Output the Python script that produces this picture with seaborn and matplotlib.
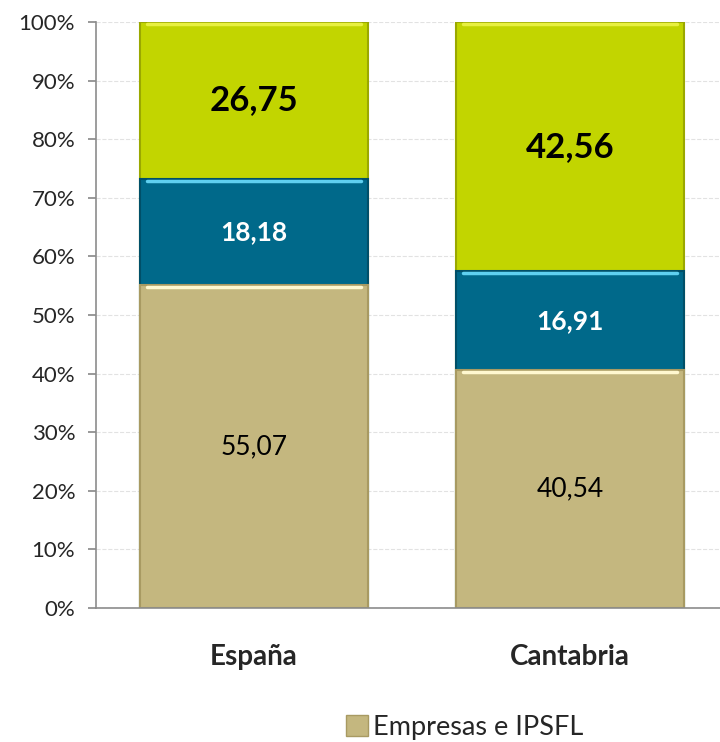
import matplotlib.pyplot as plt
import seaborn as sns
import pandas as pd
from matplotlib.patches import Patch

# data
regiones = ["España", "Cantabria"]
empresas = [55.07, 40.54]
admin = [18.18, 16.91]
ensenanza = [26.75, 42.56]

sns.set_theme(style="white")
plt.rcParams['font.family'] = ['Lato', 'DejaVu Sans']

df = pd.DataFrame({"region": regiones, "emp": empresas, "adm": admin, "ens": ensenanza})
df["c1"] = df["emp"]
df["c2"] = df["emp"] + df["adm"]
df["c3"] = df["c2"] + df["ens"]

fig = plt.figure(figsize=(7.2, 7.42), dpi=100)
ax = fig.add_axes([96 / 720, 1 - 608 / 742, 1 - 96 / 720, (608 - 22) / 742])

c_emp = "#c4b77f"
c_adm = "#00698a"
c_ens = "#c2d500"

# draw top of stack first, then lower segments on top
sns.barplot(data=df, x="region", y="c3", color=c_ens, width=0.72, ax=ax,
            edgecolor="#9aa800", linewidth=1.5, saturation=1)
sns.barplot(data=df, x="region", y="c2", color=c_adm, width=0.72, ax=ax,
            edgecolor="#004f68", linewidth=1.5, saturation=1)
sns.barplot(data=df, x="region", y="c1", color=c_emp, width=0.72, ax=ax,
            edgecolor="#a89a62", linewidth=1.5, saturation=1)

# highlight lines at segment tops
for i in range(len(regiones)):
    ax.plot([i - 0.34, i + 0.34], [df["c2"][i] - 0.3] * 2, color="#5fd0f0", lw=2.5, zorder=5)
    ax.plot([i - 0.34, i + 0.34], [df["c1"][i] - 0.3] * 2, color="#fff8d0", lw=2.5, zorder=5)
    ax.plot([i - 0.34, i + 0.34], [df["c3"][i] - 0.3] * 2, color="#e8f040", lw=2.5, zorder=5)

# value labels
for i in range(len(regiones)):
    ax.text(i, df["c1"][i] / 2, f"{empresas[i]:.2f}".replace(".", ","),
            ha="center", va="center", fontsize=19, color="black")
    ax.text(i, df["c1"][i] + admin[i] / 2, f"{admin[i]:.2f}".replace(".", ","),
            ha="center", va="center", fontsize=19, color="white", fontweight="bold")
    ax.text(i, df["c2"][i] + ensenanza[i] / 2, f"{ensenanza[i]:.2f}".replace(".", ","),
            ha="center", va="center", fontsize=25, color="black", fontweight="bold")

ax.set_ylim(0, 100)
ax.set_xlim(-0.5, 1.475)
ax.set_yticks(range(0, 101, 10))
ax.set_yticklabels([f"{v}%" for v in range(0, 101, 10)], fontsize=16)
ax.yaxis.grid(True, color="#e2e2e2", linestyle="--", linewidth=0.8)
ax.set_axisbelow(True)
ax.set_xlabel("")
ax.set_ylabel("")
ax.tick_params(axis="y", left=True, length=6, color="#8c8c8c", pad=9)
ax.tick_params(axis="x", length=0, pad=26, labelsize=20)
for lab in ax.get_xticklabels():
    lab.set_fontweight("bold")
sns.despine(ax=ax, top=True, right=True)
ax.spines["left"].set_color("#8c8c8c")
ax.spines["bottom"].set_color("#8c8c8c")
ax.spines["left"].set_linewidth(1.2)
ax.spines["bottom"].set_linewidth(1.2)

fig.legend(handles=[Patch(facecolor=c_emp, edgecolor="#a89a62", label="Empresas e IPSFL")],
           loc="lower left", bbox_to_anchor=(322 / 720, -0.03), frameon=False,
           fontsize=19.5, handlelength=0.8, handleheight=0.8, handletextpad=0.2)

fig.savefig("out.png", dpi=100)
